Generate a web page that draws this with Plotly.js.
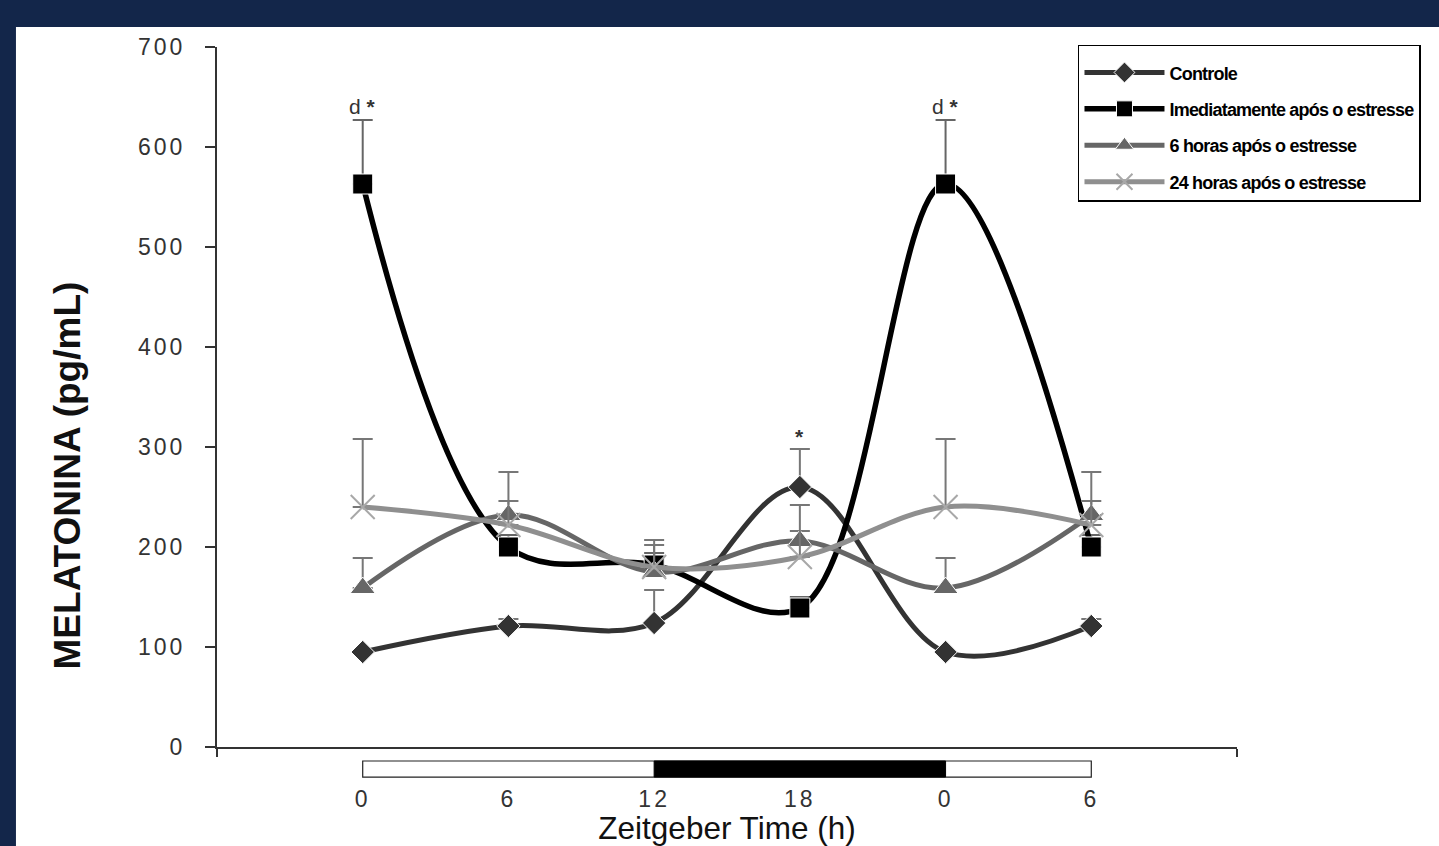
<!DOCTYPE html>
<html>
<head>
<meta charset="utf-8">
<script src="https://cdn.plot.ly/plotly-3.0.1.min.js"></script>
<style>
html,body{margin:0;padding:0;background:#13264a;overflow:hidden;}
#chart{width:1439px;height:846px;}
.ytick text,.x2tick text{letter-spacing:3px;}
.legendtext{letter-spacing:-0.8px;}
</style>
</head>
<body>
<div id="chart"></div>
<script>
// Zeitgeber time (h), continuous positions, and their printed tick labels
const zt = [0, 6, 12, 18, 24, 30];
const ztLabels = ['0', '6', '12', '18', '0', '6'];

// Series names
const names = ['Controle', 'Imediatamente após o estresse', '6 horas após o estresse', '24 horas após o estresse'];

// Melatonin (pg/mL) and upper error bars
const controle = [95, 121, 124, 260, 95, 121];
const controleErr = [0, 7, 33, 38, 0, 7];
const imediato = [563, 200, 182, 139, 563, 200];
const imediatoErr = [64, 12, 12, 11, 64, 12];
const seisHoras = [159, 232, 175, 206, 159, 232];
const seisHorasErr = [30, 14, 32, 10, 30, 14];
const vinteQuatro = [240, 222, 180, 190, 240, 222];
const vinteQuatroErr = [68, 53, 22, 52, 68, 53];

// Light / dark phases (h)
const lightStart = 0, darkStart = 12, darkEnd = 24, lightEnd = 30;

// Significance marks
const sigX = [0, 24, 18];
const sigY = [641, 641, 311];
const sigText = ['d <b>*</b>', 'd <b>*</b>', '<b>*</b>'];

function errBar(arr, color) {
  return {type: 'data', symmetric: false, array: arr, arrayminus: arr.map(() => 0),
          color: color, thickness: 2, width: 10};
}

const traces = [
  {x: zt, y: controle, name: names[0], legendgroup: 'a', mode: 'lines+markers',
   line: {shape: 'spline', smoothing: 1, color: '#333333', width: 5},
   marker: {symbol: 'diamond', size: 18, color: '#333333', line: {color: '#ffffff', width: 1}},
   error_y: errBar(controleErr, '#777777')},
  {x: zt, y: imediato, name: names[1], legendgroup: 'b', mode: 'lines+markers',
   line: {shape: 'spline', smoothing: 1, color: '#000000', width: 5.5},
   marker: {symbol: 'square', size: 20, color: '#000000', line: {color: '#ffffff', width: 1}},
   error_y: errBar(imediatoErr, '#666666')},
  {x: zt, y: seisHoras, name: names[2], legendgroup: 'c', mode: 'lines+markers',
   line: {shape: 'spline', smoothing: 1, color: '#666666', width: 5},
   marker: {symbol: 'triangle-up', size: 22, color: '#666666', line: {color: '#ffffff', width: 1}},
   error_y: errBar(seisHorasErr, '#777777')},
  {x: zt, y: vinteQuatro, name: names[3], legendgroup: 'd', mode: 'lines+markers',
   line: {shape: 'spline', smoothing: 1, color: '#8f8f8f', width: 5},
   marker: {symbol: 'x-thin-open', size: 24, color: '#a8a8a8', line: {color: '#a8a8a8', width: 2}},
   error_y: errBar(vinteQuatroErr, '#777777')},
  // invisible trace carrying the tick labels axis
  {x: zt, y: zt.map(() => null), xaxis: 'x2', yaxis: 'y', showlegend: false, hoverinfo: 'skip', mode: 'markers'}
];

const annotations = sigX.map((x, i) => ({
  x: x, y: sigY[i], xref: 'x', yref: 'y', text: sigText[i], showarrow: false,
  font: {family: 'Liberation Sans, Arial, sans-serif', size: 21, color: '#333333'}
}));
annotations.push({
  xref: 'paper', yref: 'paper', x: -0.147, y: 0.388, xanchor: 'center', yanchor: 'middle',
  textangle: -90, showarrow: false,
  text: 'MELATONINA (pg/mL)',
  font: {family: 'Liberation Sans, Arial, sans-serif', size: 37, color: '#111111', weight: 'bold'}
});

const layout = {
  width: 1439, height: 846,
  margin: {l: 217, r: 202, t: 47, b: 99, pad: 0, autoexpand: false},
  paper_bgcolor: '#13264a',
  plot_bgcolor: 'rgba(0,0,0,0)',
  font: {family: 'Liberation Sans, Arial, sans-serif', color: '#333333'},
  showlegend: true,
  legend: {
    x: 0.8441, y: 1.0029, xanchor: 'left', yanchor: 'top',
    bgcolor: '#ffffff', bordercolor: '#000000', borderwidth: 1.5,
    font: {family: 'Liberation Sans, Arial, sans-serif', size: 18, color: '#000000', weight: 'bold'},
    title: {text: ' ', font: {size: 6}},
    itemwidth: 80, tracegroupgap: 10, traceorder: 'grouped'
  },
  xaxis: {
    range: [-6, 36], showgrid: false, zeroline: false,
    showline: true, linecolor: '#333333', linewidth: 2,
    tickvals: [-6, 36], ticktext: ['', ''], ticks: 'outside', ticklen: 8, tickwidth: 2, tickcolor: '#333333'
  },
  xaxis2: {
    overlaying: 'x', anchor: 'y', side: 'bottom', range: [-6, 36],
    showgrid: false, zeroline: false, showline: false, ticks: '',
    tickvals: zt, ticktext: ztLabels, ticklabelstandoff: 36,
    tickfont: {family: 'Liberation Sans, Arial, sans-serif', size: 23, color: '#333333'},
    title: {text: 'Zeitgeber Time (h)', standoff: 3,
            font: {family: 'Liberation Sans, Arial, sans-serif', size: 31.5, color: '#111111'}}
  },
  yaxis: {
    range: [0, 700], showgrid: false, zeroline: false,
    showline: true, linecolor: '#333333', linewidth: 2,
    tickvals: [0, 100, 200, 300, 400, 500, 600, 700],
    ticks: 'outside', ticklen: 10, tickwidth: 2, tickcolor: '#333333',
    ticklabelstandoff: 15,
    tickfont: {family: 'Liberation Sans, Arial, sans-serif', size: 23, color: '#333333'}
  },
  shapes: [
    {type: 'rect', xref: 'paper', yref: 'paper', layer: 'below',
     x0: -0.1971, x1: 1.25, y0: -0.16, y1: 1.0286,
     fillcolor: '#ffffff', line: {width: 0}},
    {type: 'rect', xref: 'x', yref: 'paper', x0: lightStart, x1: lightEnd,
     y0: -0.0429, y1: -0.02, fillcolor: '#ffffff', line: {color: '#222222', width: 1.2}},
    {type: 'rect', xref: 'x', yref: 'paper', x0: darkStart, x1: darkEnd,
     y0: -0.0429, y1: -0.02, fillcolor: '#000000', line: {color: '#000000', width: 1}}
  ],
  annotations: annotations
};

Plotly.newPlot('chart', traces, layout, {displayModeBar: false, staticPlot: true});
</script>
</body>
</html>
